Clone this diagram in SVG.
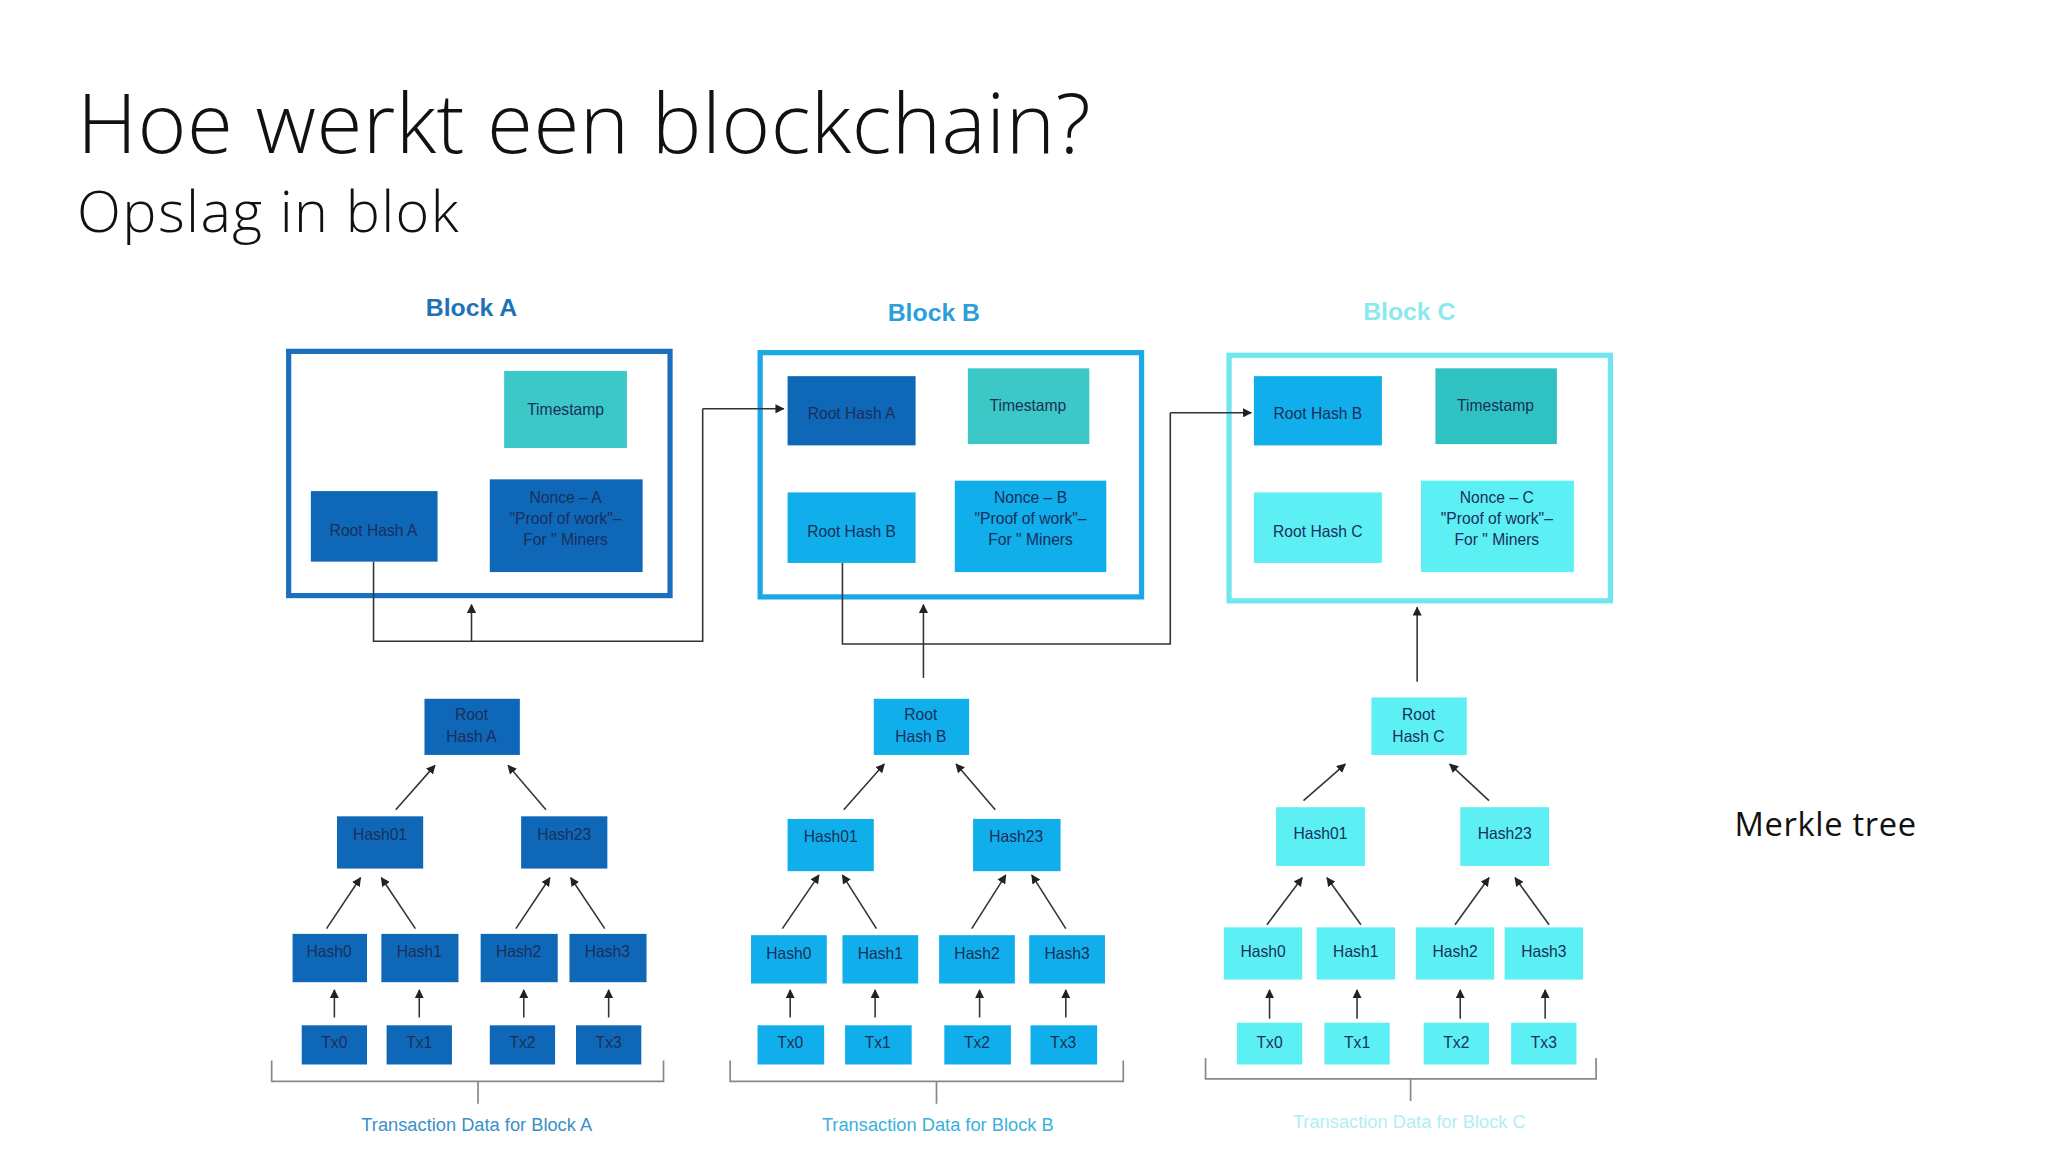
<svg xmlns="http://www.w3.org/2000/svg" width="2048" height="1152" viewBox="0 0 2048 1152">
<defs>
<marker id="ah" viewBox="0 0 10 10" refX="9" refY="5" markerWidth="7" markerHeight="7" orient="auto" markerUnits="userSpaceOnUse"><path d="M0,0L10,5L0,10z" fill="#222"/></marker>
<style>
.t{font-family:"Liberation Sans",Arial,sans-serif;font-size:12px;fill:#1a2f5a;text-anchor:middle}
.a{fill:#0f67b8}.b{fill:#10aeea}.c{fill:#5cf0f5}.ts{fill:#3cc8c6}.tsc{fill:#30c2c2}
.ln{stroke:#333;stroke-width:1.2;fill:none}
.ar{stroke:#333;stroke-width:1.2;fill:none;marker-end:url(#ah)}
.br{stroke:#888;stroke-width:1.3;fill:none}
.h{font-family:"Liberation Sans",Arial,sans-serif;font-size:19px;font-weight:bold;text-anchor:middle}
.lab{font-family:"Liberation Sans",Arial,sans-serif;font-size:14px;text-anchor:middle}
</style>
</defs>
<rect width="2048" height="1152" fill="#fff"/>
<g transform="scale(1.30612)">
<g id="title">
<text x="59" y="117" font-family="Open Sans,Noto Sans,sans-serif" font-weight="300" font-size="64" textLength="776" fill="#111">Hoe werkt een blockchain?</text>
<text x="59" y="178" font-family="Open Sans,Noto Sans,sans-serif" font-weight="300" font-size="44" textLength="292" fill="#111">Opslag in blok</text>
<text x="1328" y="640" font-family="Open Sans,Noto Sans,sans-serif" font-size="25" textLength="139" fill="#111">Merkle tree</text>
</g>
<g id="blockA">
<text class="h" x="361" y="242" fill="#1f72b8">Block A</text>
<rect x="221" y="269" width="292" height="187" fill="none" stroke="#1a6fbf" stroke-width="4"/>
<rect class="ts" x="386" y="284" width="94" height="59"/><text class="t" x="433" y="318">Timestamp</text>
<rect class="a" x="238" y="376" width="97" height="54"/><text class="t" x="286" y="410">Root Hash A</text>
<rect class="a" x="375" y="367" width="117" height="71"/><text class="t" x="433" y="385">Nonce – A</text><text class="t" x="433" y="401">"Proof of work"–</text><text class="t" x="433" y="417">For " Miners</text>
</g>
<g id="blockB">
<text class="h" x="715" y="246" fill="#2a9fd8">Block B</text>
<rect x="582" y="270" width="292" height="187" fill="none" stroke="#1aa9e6" stroke-width="4"/>
<rect class="a" x="603" y="288" width="98" height="53"/><text class="t" x="652" y="321">Root Hash A</text>
<rect class="ts" x="741" y="282" width="93" height="58"/><text class="t" x="787" y="315">Timestamp</text>
<rect class="b" x="603" y="377" width="98" height="54"/><text class="t" x="652" y="411">Root Hash B</text>
<rect class="b" x="731" y="368" width="116" height="70"/><text class="t" x="789" y="385">Nonce – B</text><text class="t" x="789" y="401">"Proof of work"–</text><text class="t" x="789" y="417">For " Miners</text>
</g>
<g id="blockC">
<text class="h" x="1079" y="245" fill="#8ae8f0">Block C</text>
<rect x="941" y="272" width="292" height="188" fill="none" stroke="#70e6f0" stroke-width="4"/>
<rect class="b" x="960" y="288" width="98" height="53"/><text class="t" x="1009" y="321">Root Hash B</text>
<rect class="tsc" x="1099" y="282" width="93" height="58"/><text class="t" x="1145" y="315">Timestamp</text>
<rect class="c" x="960" y="377" width="98" height="54"/><text class="t" x="1009" y="411">Root Hash C</text>
<rect class="c" x="1088" y="368" width="117" height="70"/><text class="t" x="1146" y="385">Nonce – C</text><text class="t" x="1146" y="401">"Proof of work"–</text><text class="t" x="1146" y="417">For " Miners</text>
</g>
<g id="treeA">
<rect class="a" x="325" y="535" width="73" height="43"/><text class="t" x="361" y="551">Root</text><text class="t" x="361" y="568">Hash A</text>
<rect class="a" x="258" y="625" width="66" height="40"/><text class="t" x="291" y="643">Hash01</text>
<rect class="a" x="399" y="625" width="66" height="40"/><text class="t" x="432" y="643">Hash23</text>
<rect class="a" x="224" y="715" width="57" height="37"/><text class="t" x="252" y="733">Hash0</text>
<rect class="a" x="292" y="715" width="59" height="37"/><text class="t" x="321" y="733">Hash1</text>
<rect class="a" x="368" y="715" width="59" height="37"/><text class="t" x="397" y="733">Hash2</text>
<rect class="a" x="436" y="715" width="59" height="37"/><text class="t" x="465" y="733">Hash3</text>
<rect class="a" x="231" y="785" width="50" height="30"/><text class="t" x="256" y="802">Tx0</text>
<rect class="a" x="296" y="785" width="50" height="30"/><text class="t" x="321" y="802">Tx1</text>
<rect class="a" x="375" y="785" width="50" height="30"/><text class="t" x="400" y="802">Tx2</text>
<rect class="a" x="441" y="785" width="50" height="30"/><text class="t" x="466" y="802">Tx3</text>
<text class="lab" x="365" y="866" fill="#3a8fc8">Transaction Data for Block A</text>
</g>
<g id="treeB">
<rect class="b" x="669" y="535" width="73" height="43"/><text class="t" x="705" y="551">Root</text><text class="t" x="705" y="568">Hash B</text>
<rect class="b" x="603" y="627" width="66" height="40"/><text class="t" x="636" y="645">Hash01</text>
<rect class="b" x="745" y="627" width="67" height="40"/><text class="t" x="778" y="645">Hash23</text>
<rect class="b" x="575" y="716" width="58" height="37"/><text class="t" x="604" y="734">Hash0</text>
<rect class="b" x="645" y="716" width="58" height="37"/><text class="t" x="674" y="734">Hash1</text>
<rect class="b" x="719" y="716" width="58" height="37"/><text class="t" x="748" y="734">Hash2</text>
<rect class="b" x="788" y="716" width="58" height="37"/><text class="t" x="817" y="734">Hash3</text>
<rect class="b" x="580" y="785" width="51" height="30"/><text class="t" x="605" y="802">Tx0</text>
<rect class="b" x="647" y="785" width="51" height="30"/><text class="t" x="672" y="802">Tx1</text>
<rect class="b" x="723" y="785" width="51" height="30"/><text class="t" x="748" y="802">Tx2</text>
<rect class="b" x="789" y="785" width="51" height="30"/><text class="t" x="814" y="802">Tx3</text>
<text class="lab" x="718" y="866" fill="#3ab0dc">Transaction Data for Block B</text>
</g>
<g id="treeC">
<rect class="c" x="1050" y="534" width="73" height="44"/><text class="t" x="1086" y="551">Root</text><text class="t" x="1086" y="568">Hash C</text>
<rect class="c" x="977" y="618" width="68" height="45"/><text class="t" x="1011" y="642">Hash01</text>
<rect class="c" x="1118" y="618" width="68" height="45"/><text class="t" x="1152" y="642">Hash23</text>
<rect class="c" x="937" y="710" width="60" height="40"/><text class="t" x="967" y="733">Hash0</text>
<rect class="c" x="1008" y="710" width="60" height="40"/><text class="t" x="1038" y="733">Hash1</text>
<rect class="c" x="1084" y="710" width="60" height="40"/><text class="t" x="1114" y="733">Hash2</text>
<rect class="c" x="1152" y="710" width="60" height="40"/><text class="t" x="1182" y="733">Hash3</text>
<rect class="c" x="947" y="783" width="50" height="32"/><text class="t" x="972" y="802">Tx0</text>
<rect class="c" x="1014" y="783" width="50" height="32"/><text class="t" x="1039" y="802">Tx1</text>
<rect class="c" x="1090" y="783" width="50" height="32"/><text class="t" x="1115" y="802">Tx2</text>
<rect class="c" x="1157" y="783" width="50" height="32"/><text class="t" x="1182" y="802">Tx3</text>
<text class="lab" x="1079" y="864" fill="#b0eef4">Transaction Data for Block C</text>
</g>
<g id="connectors">
<path class="ln" d="M286,430V491H538V313"/><path class="ar" d="M538,313H600"/>
<path class="ln" d="M645,431V493H896V316"/><path class="ar" d="M896,316H958"/>
<path class="ar" d="M361,491V463"/><path class="ar" d="M707,519V463"/><path class="ar" d="M1085,522V465"/>
<path class="ar" d="M303,620L333,586"/><path class="ar" d="M418,620L389,586"/>
<path class="ar" d="M250,711L276,672"/><path class="ar" d="M318,711L292,672"/><path class="ar" d="M395,711L421,672"/><path class="ar" d="M463,711L437,672"/>
<path class="ar" d="M256,779V758"/><path class="ar" d="M321,779V758"/><path class="ar" d="M401,779V758"/><path class="ar" d="M466,779V758"/>
<path class="ar" d="M646,620L677,585"/><path class="ar" d="M762,620L732,585"/>
<path class="ar" d="M599,711L627,670"/><path class="ar" d="M671,711L645,670"/><path class="ar" d="M744,711L770,670"/><path class="ar" d="M816,711L790,670"/>
<path class="ar" d="M605,779V758"/><path class="ar" d="M670,779V758"/><path class="ar" d="M750,779V758"/><path class="ar" d="M816,779V758"/>
<path class="ar" d="M998,613L1030,585"/><path class="ar" d="M1140,613L1110,585"/>
<path class="ar" d="M970,708L997,672"/><path class="ar" d="M1042,708L1016,672"/><path class="ar" d="M1114,708L1140,672"/><path class="ar" d="M1186,708L1160,672"/>
<path class="ar" d="M972,780V758"/><path class="ar" d="M1039,780V758"/><path class="ar" d="M1118,780V758"/><path class="ar" d="M1183,780V758"/>
<path class="br" d="M208,812V828H508V812M366,828V845"/>
<path class="br" d="M559,812V828H860V812M717,828V845"/>
<path class="br" d="M923,810V826H1222V810M1080,826V843"/>
</g>
</g>
</svg>
